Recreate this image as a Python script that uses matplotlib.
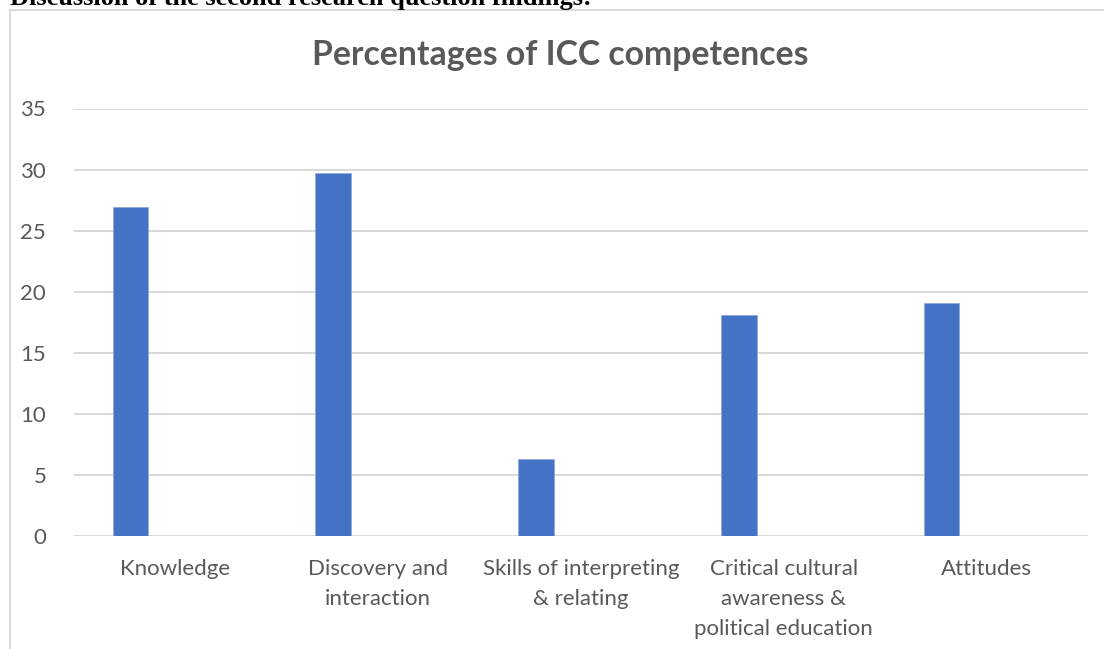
import matplotlib.pyplot as plt
from matplotlib.patches import Rectangle
import numpy as np

# data
categories = ['Knowledge', 'Discovery and\ninteraction', 'Skills of interpreting\n& relating',
              'Critical cultural\nawareness &\npolitical education', 'Attitudes']
percentages = [26.9, 29.75, 6.3, 18.1, 19.1]
y_ticks = [0, 5, 10, 15, 20, 25, 30, 35]

W, H = 1104, 649
fig = plt.figure(figsize=(W / 100, H / 100), dpi=100)
plt.rcParams['font.family'] = ['Lato', 'DejaVu Sans']

grey = '#595959'
line_grey = '#d9d9d9'

# cropped heading of the document above the chart
fig.text(10 / W, 1 - 5 / H, 'Discussion of the second research question findings:',
         family='Liberation Serif', weight='bold', fontsize=19, color='black',
         ha='left', va='baseline')

# chart border (right and bottom lie outside the crop)
fig.patches.append(Rectangle((10 / W, -0.1), 1.2, 1 - 10 / H + 0.1, transform=fig.transFigure,
                             fill=False, edgecolor=line_grey, linewidth=1.5))

ax = fig.add_axes([74 / W, 1 - 535.7 / H, 1014 / W, (535.7 - 108.5) / H])
x = np.arange(len(categories))
ax.bar(x - 0.222, percentages, width=0.176, color='#4472C4', edgecolor='#8faadc',
       linewidth=0.6, zorder=3)

ax.set_xlim(-0.5, len(categories) - 0.5)
ax.set_ylim(0, 35)
ax.set_yticks(y_ticks)
ax.set_xticks(x)
ax.set_xticklabels(categories, fontsize=16, color=grey, linespacing=1.6)
ax.tick_params(axis='y', labelsize=16, labelcolor=grey, length=0, pad=20)
ax.tick_params(axis='x', length=0, pad=17)
ax.grid(axis='y', color=line_grey, linewidth=1.4, zorder=0)
for s in ax.spines.values():
    s.set_visible(False)

fig.text(560 / W, 1 - 55 / H, 'Percentages of ICC competences', fontsize=24.3,
         weight='bold', color=grey, ha='center', va='center')

fig.savefig('out.png', dpi=100)
